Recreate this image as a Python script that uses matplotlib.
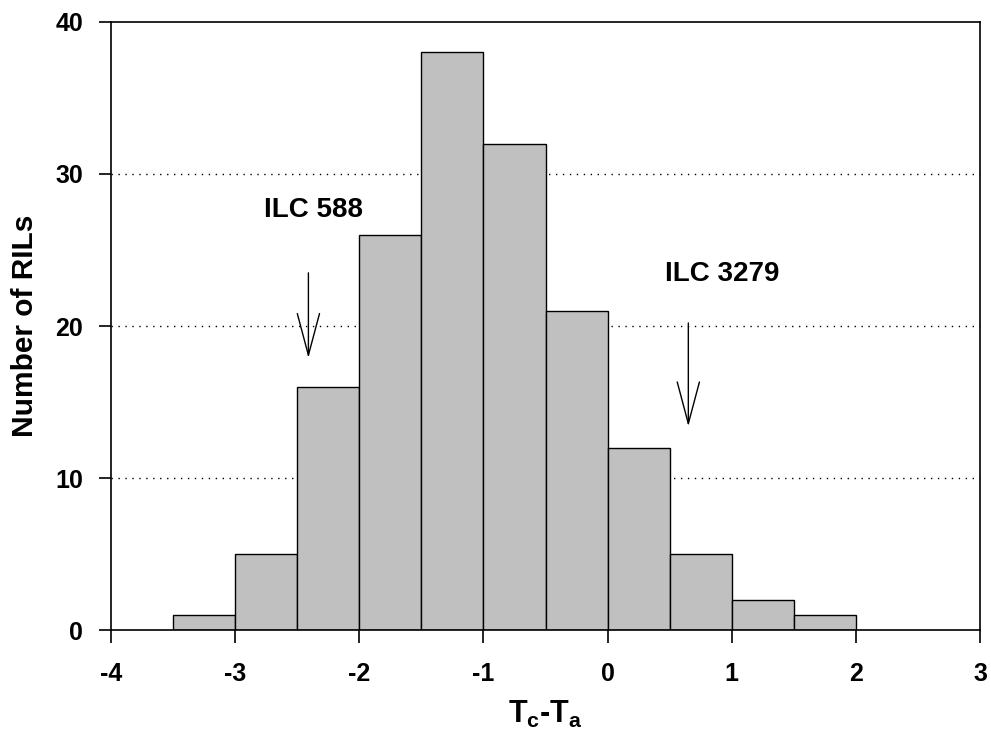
import matplotlib
matplotlib.use('Agg')
import matplotlib.pyplot as plt

plt.rcParams['font.family'] = ['Liberation Sans', 'DejaVu Sans']
plt.rcParams['font.weight'] = 'bold'
plt.rcParams['mathtext.fontset'] = 'custom'
plt.rcParams['mathtext.bf'] = 'Liberation Sans:bold'
plt.rcParams['mathtext.rm'] = 'Liberation Sans:bold'

# histogram of canopy-air temperature difference
bin_edges = [-3.5, -3.0, -2.5, -2.0, -1.5, -1.0, -0.5, 0.0, 0.5, 1.0, 1.5, 2.0]
counts = [1, 5, 16, 26, 38, 32, 21, 12, 5, 2, 1]

# parent lines marked with arrows
parent_names = ['ILC 588', 'ILC 3279']
parent_x = [-2.41, 0.65]
arrow_top = [23.5, 20.2]
arrow_tip = [17.9, 13.4]
label_x = [-2.37, 0.92]
label_y = [27.6, 23.4]

xticks = [-4, -3, -2, -1, 0, 1, 2, 3]
yticks = [0, 10, 20, 30, 40]

fig = plt.figure(figsize=(9.91, 7.4), dpi=100)
ax = fig.add_axes([0.112, 0.1486, 0.877, 0.8217])

widths = [b - a for a, b in zip(bin_edges[:-1], bin_edges[1:])]
ax.bar(bin_edges[:-1], counts, width=widths, align='edge',
       color='#c0c0c0', edgecolor='black', linewidth=1.0, zorder=2)

# dotted reference lines
for y in yticks[1:-1]:
    ax.axhline(y, color='black', linestyle=(0, (1, 4)), linewidth=1.0, zorder=1)

for name, x, y0, y1, tx, ty in zip(parent_names, parent_x, arrow_top, arrow_tip,
                                   label_x, label_y):
    ax.annotate('', xy=(x, y1), xytext=(x, y0),
                arrowprops=dict(arrowstyle='->,head_length=3.0,head_width=0.8',
                                color='black', lw=1.0, shrinkA=0, shrinkB=0,
                                mutation_scale=10),
                zorder=3)
    ax.text(tx, ty, name, ha='center', va='center', fontsize=20,
            fontweight='bold')

ax.set_xlim(-4, 3)
ax.set_ylim(0, 40)
ax.set_xticks(xticks)
ax.set_yticks(yticks)
ax.set_xticklabels([str(t) for t in xticks])
ax.set_yticklabels([str(t) for t in yticks])
ax.tick_params(axis='x', direction='out', length=9, width=1.2, pad=14,
               labelsize=18)
ax.tick_params(axis='y', direction='out', length=9, width=1.2, pad=11,
               labelsize=18)
for s in ax.spines.values():
    s.set_linewidth(1.2)

ax.set_xlabel(r'$\mathbf{T_c}$-$\mathbf{T_a}$', fontsize=22, fontweight='bold',
              labelpad=9)
ax.set_ylabel('Number of RILs', fontsize=21.5, fontweight='bold', labelpad=12)

fig.savefig('out.png', dpi=100)
